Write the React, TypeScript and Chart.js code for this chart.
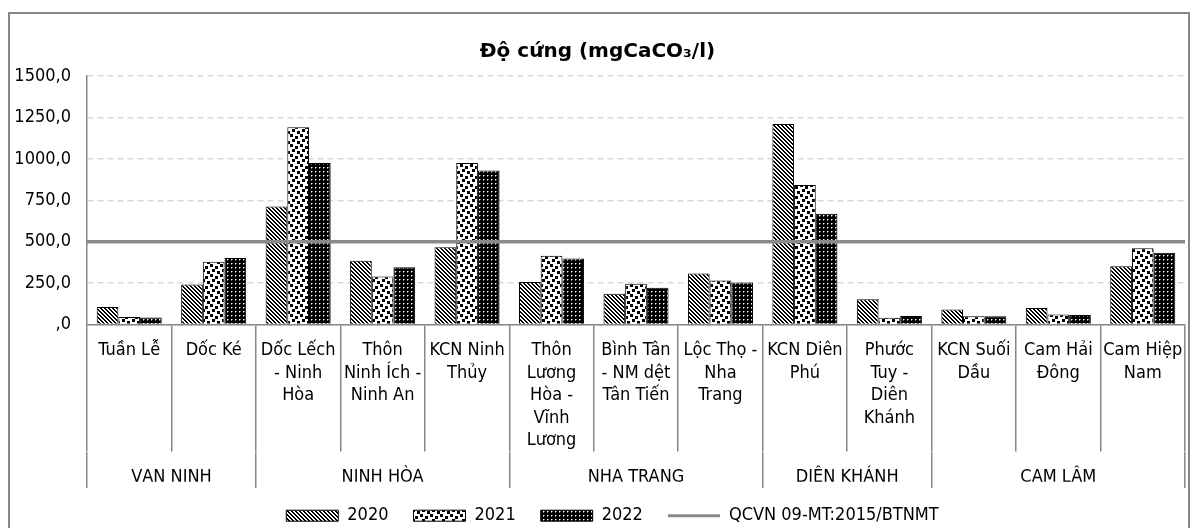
import React, { useEffect, useRef } from 'react';
import { Chart, registerables } from 'chart.js';

Chart.register(...registerables);

// ---------- DATA ----------
const chartTitle = 'Độ cứng (mgCaCO₃/l)';

const categories: string[][] = [
  ['Tuần Lễ'],
  ['Dốc Ké'],
  ['Dốc Lếch', '- Ninh', 'Hòa'],
  ['Thôn', 'Ninh Ích -', 'Ninh An'],
  ['KCN Ninh', 'Thủy'],
  ['Thôn', 'Lương', 'Hòa -', 'Vĩnh', 'Lương'],
  ['Bình Tân', '- NM dệt', 'Tân Tiến'],
  ['Lộc Thọ -', 'Nha', 'Trang'],
  ['KCN Diên', 'Phú'],
  ['Phước', 'Tuy -', 'Diên', 'Khánh'],
  ['KCN Suối', 'Dầu'],
  ['Cam Hải', 'Đông'],
  ['Cam Hiệp', 'Nam'],
];

const groupNames = ['VẠN NINH', 'NINH HÒA', 'NHA TRANG', 'DIÊN KHÁNH', 'CAM LÂM'];
const groupSizes = [2, 3, 3, 2, 3];

const seriesLabels = ['2020', '2021', '2022'];
const values2020 = [106, 242, 713, 385, 466, 256, 185, 308, 1210, 153, 91, 99, 351];
const values2021 = [46, 379, 1190, 290, 975, 415, 246, 266, 842, 40, 50, 60, 461];
const values2022 = [43, 401, 975, 345, 929, 399, 222, 254, 669, 52, 50, 58, 433];

const limitLabel = 'QCVN 09-MT:2015/BTNMT';
const limitValue = 500;

const yMin = 0;
const yMax = 1500;
const yStep = 250;

// ---------- STYLE ----------
const FONT = "'DejaVu Sans Condensed', 'DejaVu Sans', sans-serif";
const AXIS_GRAY = '#878787';
const GRID_GRAY = '#d9d9d9';
const LIMIT_GRAY = '#8a8a8a';

Chart.defaults.font.family = FONT;
Chart.defaults.font.size = 18;
Chart.defaults.color = '#000';

function tile(w: number, h: number, draw: (g: CanvasRenderingContext2D) => void) {
  const c = document.createElement('canvas');
  c.width = w;
  c.height = h;
  const g = c.getContext('2d')!;
  draw(g);
  return c;
}

export default function App() {
  const ref = useRef<HTMLCanvasElement | null>(null);

  useEffect(() => {
    document.documentElement.style.overflow = 'hidden';
    document.body.style.overflow = 'hidden';
    const canvas = ref.current!;
    const ctx = canvas.getContext('2d')!;

    // 2020: wide downward diagonal stripes
    const t2020 = tile(4, 4, (g) => {
      g.fillStyle = '#fff';
      g.fillRect(0, 0, 4, 4);
      g.fillStyle = '#000';
      for (let y = 0; y < 4; y++)
        for (let x = 0; x < 4; x++) if ((((x - y) % 4) + 4) % 4 < 2) g.fillRect(x, y, 1, 1);
    });
    // 2021: large confetti
    const t2021 = tile(10, 10, (g) => {
      g.fillStyle = '#fff';
      g.fillRect(0, 0, 10, 10);
      g.fillStyle = '#000';
      [[0, 0], [5, 2], [2, 5], [7, 7]].forEach(([x, y]) => g.fillRect(x, y, 3, 3));
    });
    // 2022: black with small white dots
    const t2022 = tile(4, 4, (g) => {
      g.fillStyle = '#000';
      g.fillRect(0, 0, 4, 4);
      g.fillStyle = '#fff';
      g.fillRect(1, 1, 1, 1);
      g.fillStyle = '#777';
      g.fillRect(2, 1, 1, 1);
      g.fillRect(1, 2, 1, 1);
    });
    const patterns = [t2020, t2021, t2022].map((t) => ctx.createPattern(t, 'repeat')!);

    const bounds: number[] = [0];
    groupSizes.forEach((s) => bounds.push(bounds[bounds.length - 1] + s));
    const centers = groupSizes.map((s, i) => bounds[i] + s / 2);
    const seriesValues = [values2020, values2021, values2022];

    const legendShift = {
      id: 'legendShift',
      afterLayout(chart: any) {
        if (chart.legend) chart.legend.left += 30;
      },
    };

    const tickFont = { family: FONT, size: 18, lineHeight: 1.25 };

    const chart = new Chart(canvas, {
      type: 'bar',
      data: {
        labels: categories,
        datasets: [
          ...seriesValues.map((vals, i) => ({
            type: 'bar' as const,
            label: seriesLabels[i],
            data: vals,
            indexAxis: 'x',
            backgroundColor: patterns[i],
            borderColor: '#000',
            borderWidth: 1,
            xAxisID: 'x',
            yAxisID: 'y',
            categoryPercentage: 0.77,
            barPercentage: 1,
          })),
          {
            type: 'line' as const,
            label: limitLabel,
            indexAxis: 'x',
            data: [
              { x: 0, y: limitValue },
              { x: categories.length, y: limitValue },
            ],
            borderColor: LIMIT_GRAY,
            backgroundColor: LIMIT_GRAY,
            borderWidth: 3.5,
            pointRadius: 0,
            pointHoverRadius: 0,
            fill: false,
            xAxisID: 'x2',
            yAxisID: 'y',
            order: -1,
          } as any,
        ],
      },
      options: {
        indexAxis: 'y',
        responsive: false,
        animation: false,
        layout: { padding: { top: 0, left: 0, right: 3, bottom: 9.3 } },
        plugins: {
          tooltip: { enabled: false },
          title: {
            display: true,
            text: chartTitle,
            color: '#000',
            font: { family: "'DejaVu Sans', sans-serif", size: 20, weight: 'bold', lineHeight: 1.2 },
            padding: { top: 26, bottom: 12 },
          },
          legend: {
            display: true,
            position: 'bottom',
            labels: {
              color: '#000',
              font: tickFont,
              usePointStyle: true,
              pointStyleWidth: 52,
              boxHeight: 11,
              padding: 25,
              generateLabels: (ch: any) => {
                const base = (Chart.defaults.plugins.legend.labels as any).generateLabels(ch);
                return base
                  .map((it: any) => {
                    const ds: any = ch.data.datasets[it.datasetIndex];
                    if (ds.type === 'line') {
                      return { ...it, pointStyle: 'line', strokeStyle: LIMIT_GRAY, fillStyle: LIMIT_GRAY, lineWidth: 3 };
                    }
                    return { ...it, pointStyle: 'rect', strokeStyle: '#000', lineWidth: 1 };
                  })
                  .sort((a: any, b: any) => a.datasetIndex - b.datasetIndex);
              },
            },
          },
        },
        scales: {
          x: {
            type: 'category',
            axis: 'x',
            position: 'bottom',
            weight: 0,
            offset: true,
            grid: {
              display: true,
              offset: true,
              drawOnChartArea: false,
              drawTicks: true,
              tickLength: 127,
              color: AXIS_GRAY,
              lineWidth: 1.5,
            },
            border: { display: true, color: AXIS_GRAY, width: 1.5 },
            ticks: {
              color: '#000',
              font: tickFont,
              padding: -112,
              maxRotation: 0,
              minRotation: 0,
              autoSkip: false,
            },
            afterFit: (s: any) => {
              s.height = 127.2;
            },
          },
          x2: {
            type: 'linear',
            axis: 'x',
            position: 'bottom',
            weight: 1,
            min: 0,
            max: categories.length,
            offset: false,
            grid: {
              display: true,
              offset: false,
              drawOnChartArea: false,
              drawTicks: true,
              tickLength: 36.3,
              lineWidth: 1.5,
              color: (c: any) => (c.tick && bounds.includes(c.tick.value) ? AXIS_GRAY : 'rgba(0,0,0,0)'),
            },
            border: { display: false },
            ticks: {
              color: '#000',
              font: tickFont,
              padding: -21.5,
              maxRotation: 0,
              minRotation: 0,
              autoSkip: false,
              callback: (v: any) => {
                const i = centers.indexOf(Number(v));
                return i >= 0 ? groupNames[i] : '';
              },
            },
            afterBuildTicks: (s: any) => {
              s.ticks = [...bounds, ...centers].sort((a, b) => a - b).map((v) => ({ value: v }));
            },
            afterFit: (s: any) => {
              s.height = 30;
            },
          },
          y: {
            type: 'linear',
            axis: 'y',
            position: 'left',
            min: yMin,
            max: yMax,
            offset: false,
            grid: {
              display: true,
              offset: false,
              drawTicks: false,
              color: GRID_GRAY,
              lineWidth: 1.5,
            },
            border: { display: true, color: AXIS_GRAY, width: 1.5, dash: [6, 4] },
            ticks: {
              stepSize: yStep,
              color: '#000',
              padding: 16,
              font: tickFont,
              autoSkip: false,
              callback: (v: any) => (Number(v) === 0 ? ',0' : Number(v).toFixed(1).replace('.', ',')),
            },
            afterFit: (s: any) => {
              s.width = 77;
            },
          },
        },
      } as any,
      plugins: [legendShift],
    });

    return () => chart.destroy();
  }, []);

  return (
    <div
      style={{
        position: 'fixed',
        left: 8,
        top: 12,
        width: 1182,
        height: 534,
        border: `2px solid ${AXIS_GRAY}`,
        boxSizing: 'border-box',
        background: '#fff',
      }}
    >
      <canvas ref={ref} width={1178} height={530} style={{ display: 'block' }} />
    </div>
  );
}
